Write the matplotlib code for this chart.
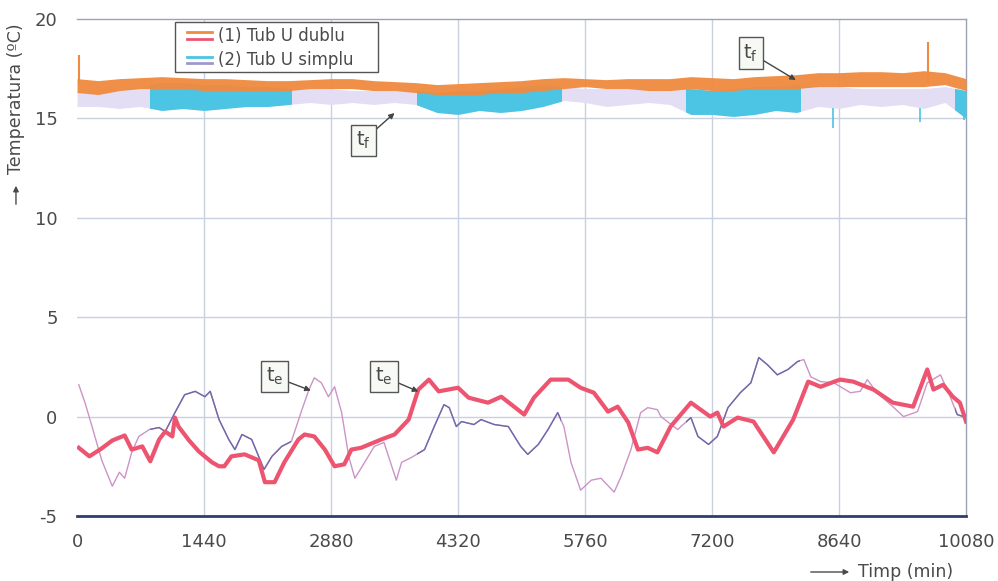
import numpy as np
import matplotlib
matplotlib.use("Agg")
import matplotlib.pyplot as plt
from matplotlib.patches import Rectangle, FancyArrowPatch

# ---------------- data ----------------
# fluid temperature bands, sampled every 240 min (0 .. 10080)
t_band = np.arange(0, 10081, 240)
tf1_hi = [17.0, 16.9, 17.0, 17.05, 17.1, 17.05, 17.0, 17.0, 16.95, 16.9, 16.9, 16.95, 17.0, 17.0,
          16.9, 16.85, 16.8, 16.7, 16.75, 16.8, 16.85, 16.9, 17.0, 17.05, 17.0, 16.95, 17.0, 17.0,
          17.0, 17.1, 17.05, 17.0, 17.1, 17.15, 17.2, 17.3, 17.3, 17.35, 17.35, 17.3, 17.4, 17.3, 17.0]
tf1_lo = [16.3, 16.2, 16.4, 16.5, 16.5, 16.5, 16.4, 16.4, 16.4, 16.4, 16.4, 16.5, 16.5, 16.5,
          16.4, 16.4, 16.3, 16.2, 16.2, 16.2, 16.3, 16.3, 16.4, 16.5, 16.6, 16.5, 16.5, 16.4,
          16.4, 16.5, 16.4, 16.4, 16.5, 16.5, 16.5, 16.6, 16.6, 16.6, 16.6, 16.6, 16.6, 16.7, 16.4]
tf2_hi = [16.4, 16.5, 16.5, 16.6, 16.8, 16.8, 16.7, 16.7, 16.6, 16.6, 16.5, 16.5, 16.5, 16.4,
          16.4, 16.4, 16.4, 16.3, 16.4, 16.4, 16.5, 16.6, 16.7, 16.6, 16.5, 16.5, 16.5, 16.5,
          16.5, 16.5, 16.4, 16.5, 16.6, 16.6, 16.7, 16.6, 16.6, 16.5, 16.5, 16.5, 16.5, 16.6, 16.4]
tf2_lo = [15.6, 15.6, 15.5, 15.6, 15.4, 15.5, 15.4, 15.5, 15.6, 15.6, 15.7, 15.8, 15.7, 15.8,
          15.7, 15.8, 15.7, 15.3, 15.2, 15.4, 15.3, 15.4, 15.6, 15.9, 15.8, 15.6, 15.7, 15.8,
          15.7, 15.2, 15.2, 15.1, 15.2, 15.4, 15.3, 15.6, 15.5, 15.7, 15.6, 15.7, 15.5, 15.8, 15.0]
tf1_spike_t = [20, 9650]
tf1_spike_v = [18.2, 18.85]
tf2_spike_t = [8575, 9560, 10060]
tf2_spike_v = [14.5, 14.8, 14.9]

# periods when the single-U loop was running (coloured parts of series 2)
run2 = [(830, 2430), (3850, 5490), (6900, 8200), (9950, 10080)]

# external temperature (1) Tub U dublu
te1_t = [20, 140, 280, 400, 540, 620, 740, 830, 930, 1000, 1080, 1110, 1150, 1270, 1380, 1530,
         1610, 1670, 1750, 1900, 2060, 2130, 2240, 2350, 2510, 2580, 2690, 2810, 2920, 3030,
         3110, 3220, 3450, 3600, 3760, 3870, 3990, 4100, 4320, 4440, 4660, 4810, 5070, 5180,
         5370, 5570, 5710, 5860, 6020, 6130, 6250, 6360, 6470, 6580, 6730, 6960, 7180, 7260,
         7330, 7490, 7670, 7900, 8120, 8290, 8430, 8650, 8800, 9030, 9250, 9480, 9640, 9710,
         9820, 9930, 10010, 10080]
te1_v = [-1.57, -2.0, -1.6, -1.2, -0.95, -1.66, -1.5, -2.25, -1.16, -0.75, -1.0, -0.05, -0.5,
         -1.2, -1.75, -2.3, -2.5, -2.5, -2.0, -1.9, -2.2, -3.3, -3.3, -2.3, -1.15, -0.9, -1.0,
         -1.66, -2.5, -2.4, -1.66, -1.57, -1.15, -0.9, -0.15, 1.36, 1.86, 1.27, 1.45, 0.95, 0.7,
         1.0, 0.1, 0.95, 1.86, 1.86, 1.45, 1.2, 0.25, 0.5, -0.3, -1.66, -1.57, -1.8, -0.5, 0.7,
         0.0, 0.2, -0.5, -0.05, -0.25, -1.8, -0.15, 1.76, 1.5, 1.86, 1.76, 1.36, 0.7, 0.5, 2.37,
         1.36, 1.6, 1.0, 0.7, -0.25]

# external temperature (2) Tub U simplu
te2_t = [20, 90, 170, 280, 400, 480, 540, 620, 700, 820, 930, 1000, 1110, 1220, 1340, 1450,
         1510, 1610, 1720, 1790, 1870, 1980, 2120, 2210, 2320, 2430, 2550, 2630, 2690, 2770,
         2850, 2920, 3000, 3080, 3150, 3220, 3370, 3480, 3620, 3680, 3790, 3940, 4050, 4160,
         4220, 4300, 4360, 4500, 4580, 4730, 4890, 5030, 5110, 5230, 5340, 5450, 5520, 5600,
         5710, 5830, 5940, 6090, 6170, 6280, 6390, 6470, 6580, 6620, 6810, 6960, 7040, 7160,
         7260, 7380, 7520, 7640, 7730, 7830, 7940, 8060, 8170, 8240, 8320, 8430, 8580, 8770,
         8880, 8960, 9070, 9250, 9370, 9530, 9640, 9790, 9900, 9980, 10050, 10080]
te2_v = [1.6, 0.7, -0.5, -2.2, -3.5, -2.8, -3.1, -1.8, -1.0, -0.65, -0.55, -0.75, 0.2, 1.1,
         1.27, 1.0, 1.27, -0.15, -1.15, -1.66, -0.9, -1.15, -2.66, -2.0, -1.5, -1.25, 0.35,
         1.36, 1.95, 1.7, 1.0, 1.5, 0.2, -2.0, -3.1, -2.6, -1.5, -1.3, -3.2, -2.3, -2.06,
         -1.66, -0.5, 0.6, 0.45, -0.5, -0.25, -0.4, -0.15, -0.4, -0.5, -1.5, -1.9, -1.4,
         -0.65, 0.2, -0.5, -2.3, -3.7, -3.2, -3.1, -3.8, -3.0, -1.66, 0.2, 0.45, 0.35, 0.0,
         -0.65, -0.05, -1.0, -1.4, -1.0, 0.45, 1.2, 1.7, 2.97, 2.6, 2.1, 2.37, 2.77, 2.87,
         2.0, 1.76, 1.7, 1.2, 1.27, 1.86, 1.2, 0.5, 0.0, 0.25, 1.7, 2.1, 1.0, 0.1, 0.0, -0.25]

x_ticks = [0, 1440, 2880, 4320, 5760, 7200, 8640, 10080]
y_ticks = [-5, 0, 5, 10, 15, 20]
legend_labels = ["(1) Tub U dublu", "(2) Tub U simplu"]

# ---------------- style ----------------
C_OR = "#f08a3e"
C_RED = "#ec5470"
C_CY = "#4cc4e4"
C_LAV = "#e4def4"
C_TE2_ON = "#6f68aa"
C_TE2_OFF = "#cc94c6"
C_GRID = "#c9d1df"
C_TXT = "#4a4a4a"

plt.rcParams["font.family"] = ["DejaVu Sans"]
plt.rcParams["axes.unicode_minus"] = False
fig = plt.figure(figsize=(9.98, 5.81), dpi=100)
ax = fig.add_axes([0.0772, 0.1119, 0.8908, 0.8554])
ax.set_xlim(0, 10080)
ax.set_ylim(-5, 20)

for xt in x_ticks[1:-1]:
    ax.axvline(xt, color=C_GRID, lw=1.0, zorder=0)
for yt in y_ticks[1:-1]:
    ax.axhline(yt, color=C_GRID, lw=1.0, zorder=0)

def seg_clip(a, b):
    return Rectangle((a, -10), b - a, 40, transform=ax.transData)

# series 2 fluid band (lavender when idle, cyan when running)
ax.fill_between(t_band, tf2_lo, tf2_hi, color=C_LAV, lw=0, zorder=2)
for a, b in run2:
    p = ax.fill_between(t_band, tf2_lo, tf2_hi, color=C_CY, lw=0, zorder=3)
    p.set_clip_path(seg_clip(a, b))
ax.vlines(tf2_spike_t, [15.5] * len(tf2_spike_t), tf2_spike_v, color=C_CY, lw=1.2, zorder=3)

# series 1 fluid band
ax.fill_between(t_band, tf1_lo, tf1_hi, color=C_OR, lw=0, alpha=0.95, zorder=4)
ax.vlines(tf1_spike_t, [16.8] * len(tf1_spike_t), tf1_spike_v, color=C_OR, lw=1.5, zorder=4)

# external temperatures
ax.plot(te2_t, te2_v, color=C_TE2_OFF, lw=1.0, zorder=5)
for a, b in run2:
    l, = ax.plot(te2_t, te2_v, color=C_TE2_ON, lw=1.0, zorder=5)
    l.set_clip_path(seg_clip(a, b))
ax.plot(te1_t, te1_v, color=C_RED, lw=3.0, zorder=6, solid_joinstyle="round")

# axes
ax.set_xticks(x_ticks)
ax.set_yticks(y_ticks)
ax.tick_params(length=0, labelsize=13, colors=C_TXT)
ax.tick_params(axis="y", pad=14)
ax.tick_params(axis="x", pad=12)
for s in ["top", "right"]:
    ax.spines[s].set_color("#9aa3b5")
    ax.spines[s].set_linewidth(1.0)
ax.spines["left"].set_visible(False)
ax.spines["bottom"].set_color("#2d3d6e")
ax.spines["bottom"].set_linewidth(2.0)

# legend (two stacked line samples per entry)
ax.add_patch(Rectangle((0.110, 0.893), 0.229, 0.101, transform=ax.transAxes,
                       facecolor="white", edgecolor="#555555", lw=1.0, zorder=8))
ax.plot([0.124, 0.152], [0.973, 0.973], color=C_OR, lw=2, transform=ax.transAxes, zorder=9)
ax.plot([0.124, 0.152], [0.960, 0.960], color=C_RED, lw=2, transform=ax.transAxes, zorder=9)
ax.plot([0.124, 0.152], [0.924, 0.924], color=C_CY, lw=2, transform=ax.transAxes, zorder=9)
ax.plot([0.124, 0.152], [0.911, 0.911], color="#9e98cc", lw=2, transform=ax.transAxes, zorder=9)
ax.text(0.159, 0.966, legend_labels[0], transform=ax.transAxes, fontsize=12,
        color=C_TXT, va="center", ha="left", zorder=9)
ax.text(0.159, 0.917, legend_labels[1], transform=ax.transAxes, fontsize=12,
        color=C_TXT, va="center", ha="left", zorder=9)

# annotations
box = dict(boxstyle="square,pad=0.25", fc="#f7f9f4", ec="#555555", lw=1.0)
arr = dict(arrowstyle="-|>", color="#444444", lw=1.0, mutation_scale=8, shrinkA=0, shrinkB=0)
ann = [("t$_\\mathregular{f}$", (3250, 13.9), (3600, 15.27)),
       ("t$_\\mathregular{f}$", (7640, 18.29), (8150, 16.93)),
       ("t$_\\mathregular{e}$", (2240, 2.0), (2650, 1.31)),
       ("t$_\\mathregular{e}$", (3480, 2.0), (3870, 1.26))]
for s, xy_t, xy in ann:
    ax.annotate(s, xy=xy, xytext=xy_t, fontsize=14, color=C_TXT, ha="center", va="center",
                bbox=box, arrowprops=arr, zorder=10)

# axis titles
fig.text(0.016, 0.83, "Temperatura (ºC)", rotation=90, fontsize=12.5, color=C_TXT,
         ha="center", va="center")
fig.add_artist(FancyArrowPatch((0.016, 1 - 207 / 581), (0.016, 1 - 183 / 581),
               transform=fig.transFigure, arrowstyle="-|>", mutation_scale=8, color=C_TXT, lw=1))
fig.text(0.860, 0.0155, "Timp (min)", fontsize=12.5, color=C_TXT, ha="left", va="center")
fig.add_artist(FancyArrowPatch((808 / 998, 0.0155), (852 / 998, 0.0155),
               transform=fig.transFigure, arrowstyle="-|>", mutation_scale=8, color=C_TXT, lw=1))

fig.savefig("out.png", dpi=100, facecolor="white")
